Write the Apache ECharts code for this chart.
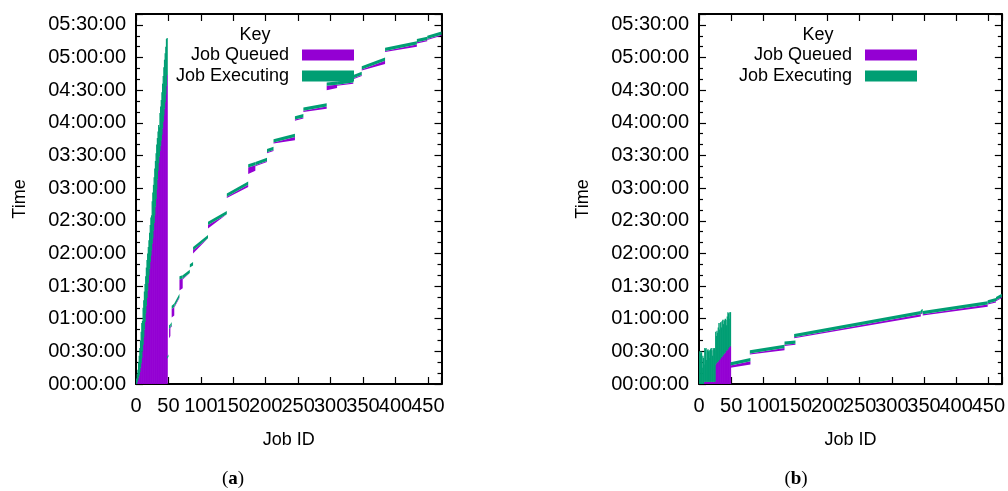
<!DOCTYPE html>
<html>
<head>
<meta charset="utf-8">
<title>Job queue timeline</title>
<script src="https://cdn.jsdelivr.net/npm/echarts@6/dist/echarts.min.js"></script>
<style>
  html, body { margin: 0; padding: 0; background: #fff; }
  #main { width: 1008px; height: 491px; }
</style>
</head>
<body>
<div id="main"></div>
<script>
// all times are minutes since the first submission
var QUEUED = '#9400d3', EXEC = '#009e73';
var FONT = 'Liberation Sans';
var JOB_MAX = 471, TIME_MAX = 340;

// (a) first jobs, all submitted at 0: start and end time per job id
var headStartA = [0,0,2,4,6,8,11,15,19,24,30,36,43,50,57,65,72,79,86,93,100,106,112,118,123,129,134,141,148,155,163,170,179,188,196,203,209,214,219,224,229,235,241,247,253,259,266,274,284];
var headEndA = [3,5,9,13,20,26,33,40,48,56,58,70,77,85,92,99,107,114,120,126,132,139,146,153,155,168,176,183,190,198,205,212,220,226,232,238,236,249,255,261,268,276,283,291,298,304,310,317,318];

// (a) later jobs in runs of ids:
// [firstId, lastId, startFirst, startLast, queueFirst, queueLast, exec]
var runsA = [
  [48, 50, 23, 25, 0, 0, 2],
  [51, 53, 51, 52, 9, 8, 3],
  [53, 55, 52, 54, 1, 1, 3],
  [55, 59, 69, 71, 8, 8, 3],
  [59, 67, 71, 80, 1, 1, 3],
  [67, 72, 96, 97, 10, 9, 3],
  [72, 83, 97, 102, 1, 0, 3],
  [83, 88, 107, 109, 0, 0, 3],
  [88, 111, 123, 134, 3, 0, 3],
  [111, 140, 146, 156, 3, 0, 3],
  [140, 173, 172, 183, 1, 2, 3],
  [173, 184, 199, 201, 6, 5, 3],
  [184, 202, 201, 205, 1, 1, 3],
  [202, 212, 213, 215, 1, 1, 3],
  [212, 245, 222, 227, 1, 3, 3],
  [245, 258, 243, 245, 1, 1, 3],
  [258, 294, 251, 255, 1, 2, 3],
  [294, 310, 274, 275, 4, 3, 3],
  [310, 335, 275, 277, 1, 1, 3],
  [335, 348, 281, 284, 1, 1, 3],
  [348, 384, 289, 297, 1, 3, 3],
  [384, 433, 306, 312, 1, 2, 3],
  [433, 449, 314, 316, 1, 1, 3],
  [449, 471, 317, 321, 1, 1, 3]
];

// (b) first jobs
var headStartB = [0,0,0,0,0,0,0,0,2,2,2,2,2,2,2,2,2,2,2,2,2,2,2,2,2,2,18,19,20,20,21,22,22,23,24,25,25,26,27,28,28,29,30,31,31,32,33,34,34,35];
var headEndB = [29,30,28,30,29,15,26,24,18,33,32,33,22,31,32,30,31,24,32,33,31,26,33,32,33,31,48,44,49,47,52,56,50,56,57,52,58,59,55,59,58,60,59,54,62,66,65,60,66,66];

// (b) later jobs
var runsB = [
  [49, 80, 17, 21, 2, 3, 3],
  [79, 133, 28, 33, 1, 2, 3],
  [133, 150, 36, 37, 1, 1, 3],
  [148, 345, 43, 64, 1, 2, 3],
  [345, 348, 65, 66, 1, 1, 3],
  [348, 449, 64, 73, 1, 2, 3],
  [449, 462, 74, 76, 1, 1, 3],
  [462, 471, 77, 80, 1, 1, 3]
];

function pad(n) { return (n < 10 ? '0' : '') + n; }
function hms(m) { return pad(Math.floor(m / 60)) + ':' + pad(m % 60) + ':00'; }

function headItems(starts, ends) {
  return starts.map(function (s, i) { return [i, s, ends[i]]; });
}

function headRender(part) {
  return function (params, api) {
    var id = api.value(0);
    var lo = part === 'q' ? 0 : api.value(1);
    var hi = part === 'q' ? api.value(1) : api.value(2);
    if (hi <= lo) return;
    var w = api.size([1, 0])[0];
    var a = api.coord([id, lo]), b = api.coord([id, hi]);
    return {
      type: 'rect',
      shape: { x: a[0] - w / 2 - 0.3, y: b[1], width: w + 0.6, height: a[1] - b[1] },
      style: { fill: part === 'q' ? QUEUED : EXEC }
    };
  };
}

function runRender(part) {
  return function (params, api) {
    var j0 = api.value(0), j1 = api.value(1), s0 = api.value(2), s1 = api.value(3);
    var q0 = api.value(4), q1 = api.value(5), e = api.value(6);
    var pts;
    if (part === 'q') {
      if (q0 <= 0 && q1 <= 0) return;
      pts = [[j0, s0 - q0], [j1, s1 - q1], [j1, s1], [j0, s0]];
    } else {
      pts = [[j0, s0], [j1, s1], [j1, s1 + e], [j0, s0 + e]];
    }
    return {
      type: 'polygon',
      shape: { points: pts.map(function (p) { return api.coord(p); }) },
      style: { fill: part === 'q' ? QUEUED : EXEC }
    };
  };
}

function panelSeries(k, starts, ends, runs) {
  var base = { type: 'custom', xAxisIndex: 2 * k, yAxisIndex: 2 * k, clip: true, silent: true };
  return [
    Object.assign({ name: 'Job Queued', itemStyle: { color: QUEUED }, renderItem: headRender('q'), data: headItems(starts, ends) }, base),
    Object.assign({ name: 'Job Executing', itemStyle: { color: EXEC }, renderItem: headRender('e'), data: headItems(starts, ends) }, base),
    Object.assign({ name: 'Job Queued', itemStyle: { color: QUEUED }, renderItem: runRender('q'), data: runs }, base),
    Object.assign({ name: 'Job Executing', itemStyle: { color: EXEC }, renderItem: runRender('e'), data: runs }, base)
  ];
}

var lineStyle = { color: '#000', width: 2 };
var tickStyle = { color: '#000', width: 1.2 };

function xAxes(k) {
  var common = { gridIndex: k, type: 'value', min: 0, max: JOB_MAX, interval: 50,
    splitLine: { show: false }, axisLine: { onZero: false, lineStyle: lineStyle },
    axisTick: { inside: true, length: 7, lineStyle: tickStyle } };
  return [
    Object.assign({ position: 'bottom', name: 'Job ID', nameLocation: 'middle', nameGap: 47,
      nameTextStyle: { fontFamily: FONT, fontSize: 18, color: '#000' },
      axisLabel: { fontFamily: FONT, fontSize: 20, color: '#000', margin: 12,
        formatter: function (v) { return v % 50 === 0 ? String(v) : ''; } } }, common),
    Object.assign({ position: 'top', axisLabel: { show: false } }, common)
  ];
}

function yAxes(k) {
  var common = { gridIndex: k, type: 'value', min: 0, max: TIME_MAX, interval: 30,
    splitLine: { show: false }, axisLine: { onZero: false, lineStyle: lineStyle },
    axisTick: { inside: true, length: 7, lineStyle: tickStyle },
    minorTick: { show: true, splitNumber: 3, length: 4, lineStyle: tickStyle } };
  return [
    Object.assign({ position: 'left', name: 'Time', nameLocation: 'middle', nameGap: 107,
      nameTextStyle: { fontFamily: FONT, fontSize: 18, color: '#000' },
      axisLabel: { fontFamily: FONT, fontSize: 20, color: '#000', margin: 10,
        formatter: function (v) { return v % 30 === 0 ? hms(v) : ''; } } }, common),
    Object.assign({ position: 'right', axisLabel: { show: false } }, common)
  ];
}

function legendRow(name, right, top) {
  return { data: [name], orient: 'vertical', align: 'right', right: right, top: top,
    icon: 'rect', itemWidth: 52, itemHeight: 11, padding: 0, selectedMode: false,
    textStyle: { fontFamily: FONT, fontSize: 18, color: '#000', padding: [0, 8, 0, 0] } };
}

function label(x, y, text) {
  return { type: 'text', x: x, y: y, silent: true,
    style: { text: text, fontFamily: FONT, fontSize: 18, fill: '#000', align: 'center', verticalAlign: 'middle' } };
}

function caption(x, letter) {
  return { type: 'text', x: x, y: 479, silent: true,
    style: { text: '{n|(}{b|' + letter + '}{n|)}', align: 'center', verticalAlign: 'middle',
      rich: { n: { fontFamily: 'Liberation Serif', fontSize: 19, fill: '#000' },
              b: { fontFamily: 'Liberation Serif', fontSize: 19, fontWeight: 'bold', fill: '#000' } } } };
}

var chart = echarts.init(document.getElementById('main'), null, { renderer: 'canvas' });
chart.setOption({
  animation: false,
  backgroundColor: '#fff',
  grid: [
    { left: 136, top: 14, width: 305.5, height: 370 },
    { left: 699, top: 14, width: 305, height: 370 }
  ],
  xAxis: xAxes(0).concat(xAxes(1)),
  yAxis: yAxes(0).concat(yAxes(1)),
  legend: [
    legendRow('Job Queued', 1008 - 354, 46),
    legendRow('Job Executing', 1008 - 354, 67),
    legendRow('Job Queued', 1008 - 917, 46),
    legendRow('Job Executing', 1008 - 917, 67)
  ],
  graphic: [
    label(255, 35, 'Key'),
    label(818, 35, 'Key'),
    caption(233, 'a'),
    caption(796, 'b')
  ],
  series: panelSeries(0, headStartA, headEndA, runsA).concat(panelSeries(1, headStartB, headEndB, runsB))
});
</script>
</body>
</html>
